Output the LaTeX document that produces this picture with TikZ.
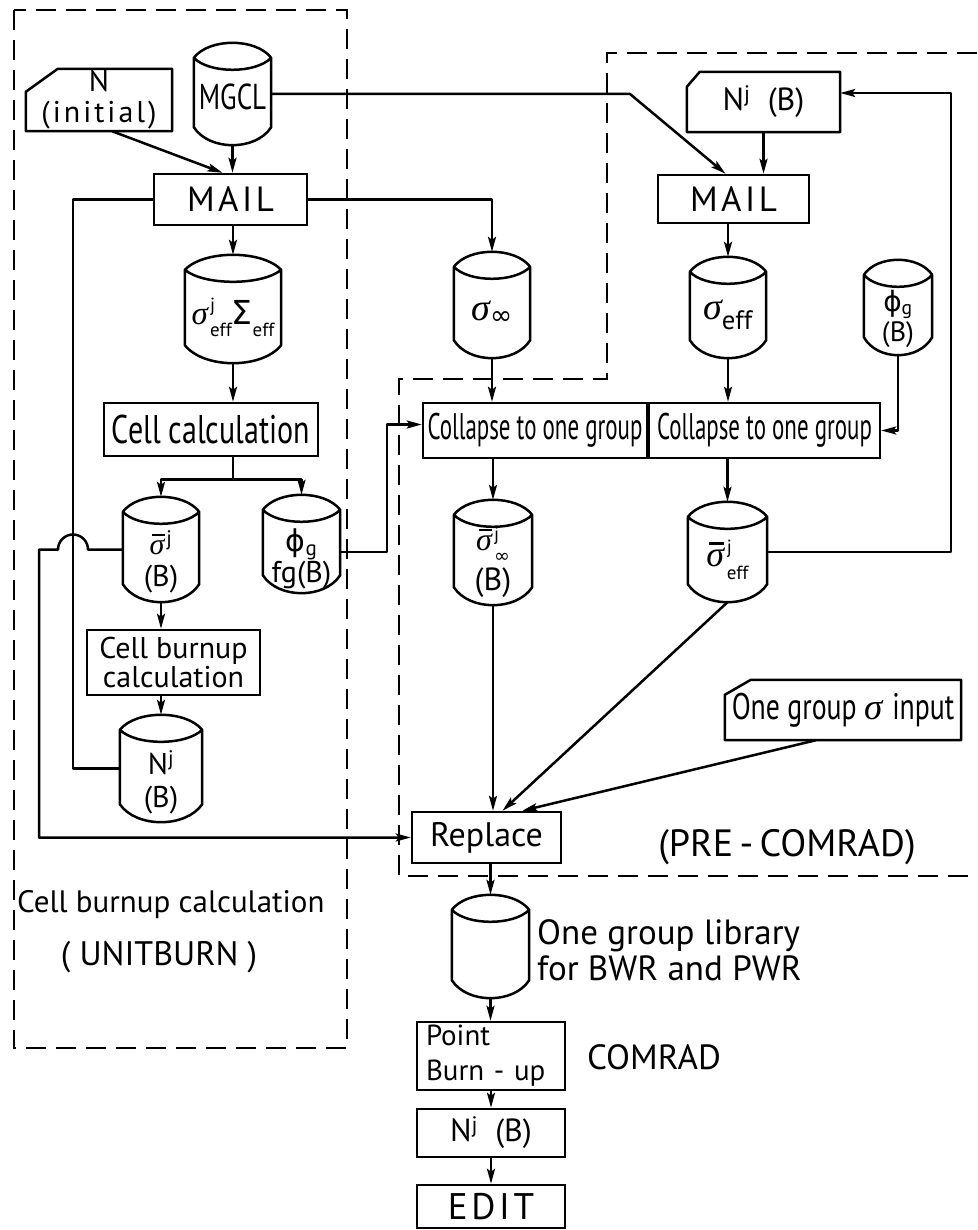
\documentclass[tikz,border=0pt]{standalone}
\usepackage{fontspec}
\setmainfont{PT Sans}
\newfontfamily\nar[FakeStretch=0.75]{PT Sans}
\newfontfamily\narr[FakeStretch=0.62]{PT Sans}
\newfontfamily\wide[LetterSpace=10]{PT Sans}
\newfontfamily\grk{Liberation Serif}
\newfontfamily\dvs{DejaVu Sans}
\usetikzlibrary{calc,arrows.meta}

\newcommand\fz[2]{\fontsize{#1}{#2}\selectfont}
\newcommand\sigx{{\grk\itshape σ}}
\newcommand\sig{\sigx\hspace{0.07em}}
\newcommand\sigbar{\makebox[0pt][l]{\raisebox{0.6em}{\hspace{0.08em}\rule{0.42em}{0.07em}}}\sig}
\newcommand\phig{{\dvs ϕ}}
% stacked superscript / subscript as one block
\newcommand\supsub[2]{\raisebox{-0.36em}{\fontsize{19}{18}\selectfont\shortstack[l]{#1\\[5pt]#2}}}

\tikzset{
  ln/.style={line width=2.5pt, line join=round},
  arr/.style={ln,-{Stealth[length=15pt,width=8pt,inset=3pt]}},
  bx/.style={draw, line width=2.5pt, inner sep=0pt, align=center},
  dbox/.style={line width=1.9pt, dash pattern=on 20pt off 10pt},
}

\newcommand{\drawcyl}[1]{%
  \draw[ln] ($(#1.north west)+(0,15)$)
    .. controls ($(#1.north west)!0.2!(#1.north east)+(0,-5)$) and ($(#1.north west)!0.8!(#1.north east)+(0,-5)$) .. ($(#1.north east)+(0,15)$)
    .. controls ($(#1.north west)!0.8!(#1.north east)+(0,31)$) and ($(#1.north west)!0.2!(#1.north east)+(0,31)$) .. ($(#1.north west)+(0,15)$)
    -- ($(#1.south west)+(0,-18)$)
    .. controls ($(#1.south west)!0.2!(#1.south east)+(0,6)$) and ($(#1.south west)!0.8!(#1.south east)+(0,6)$) .. ($(#1.south east)+(0,-18)$)
    -- ($(#1.north east)+(0,15)$);
}

% name, x, y, w, h, text shift, font, text
\newcommand{\cyl}[8]{%
  \node[minimum width=#4pt, minimum height=#5pt, inner sep=0pt] (#1) at (#2,#3) {};
  \drawcyl{#1}
  \node[align=center, inner sep=0pt, font=#7] (#1-t) at ($(#1.center)+(0,#6)$) {#8};
}

% name, x, y, w, h, cut x, cut y, font, text
\newcommand{\card}[9]{%
  \node[minimum width=#4pt, minimum height=#5pt, inner sep=0pt, align=center, font=#8] (#1) at (#2,#3) {#9};
  \draw[ln] ($(#1.north west)+(0,#7)$) -- ($(#1.north west)+(#6,0)$) -- (#1.north east) -- (#1.south east) -- (#1.south west) -- cycle;
}

\begin{document}
\begin{tikzpicture}[x=1pt,y=-1pt]
\useasboundingbox (0,0) rectangle (977,1230);
\fill[white] (0,0) rectangle (977,1230);

% dashed frames
\draw[dbox] (14,10) rectangle (347,1048);
\draw[dbox] (977,53) -- (607,53) -- (607,379) -- (399,379) -- (399,876) -- (977,876);

% ---------- UNITBURN part ----------
\cyl{mgcl}{232.5}{94}{77}{102}{3}{\nar\fz{36}{40}}{MGCL}
\card{ninit}{99}{100}{146}{62}{32}{23}{\wide\fz{30}{31}}{N\\(initial)}
\node[bx, minimum width=153pt, minimum height=51pt, font=\wide\fz{35}{40}] (mailL) at (230.5,199.5) {MAIL};
\cyl{sigeffL}{233}{309}{96}{108}{8}{\fz{33}{36}}{\sig\supsub{j}{eff}{\dvs Σ}\supsub{\strut}{eff}}
\node[bx, minimum width=214pt, minimum height=53pt, font=\nar\fz{40}{42}] (cellcalc) at (211,429.5) {Cell calculation};
\cyl{sbarB}{161}{549.5}{76}{105}{12}{\fz{30}{32}}{\sigbar\textsuperscript{j}\\(B)}
\cyl{phifg}{301.5}{544}{77}{98}{15}{\fz{30}{31}}{\phig\textsubscript{g}\\fg(B)}
\node[bx, minimum width=173pt, minimum height=65pt, font=\fz{30}{29}] (cellburn) at (173.5,662.5) {Cell burnup\\calculation};
\cyl{njB}{161}{768.5}{82}{107}{14}{\fz{30}{33}}{N\textsuperscript{j}\\(B)}

\node[anchor=west, inner sep=0pt, font=\fz{31}{36}] (lblcell) at (17,905) {Cell burnup calculation};
\node[inner sep=0pt, font=\fz{34}{36}] (lblunit) at (159,957) {( UNITBURN )};

% ---------- PRE-COMRAD part ----------
\cyl{sinf}{492}{305}{76}{106}{8}{\fz{38}{40}}{\sigx\textsubscript{\dvs ∞}}
\card{njcard}{763.5}{102}{153}{60}{13}{15}{\fz{32}{34}}{N\textsuperscript{j}\ \ (B)}
\node[bx, minimum width=151pt, minimum height=48pt, font=\wide\fz{35}{40}] (mailR) at (733.5,199) {MAIL};
\cyl{seff}{728}{307.5}{76}{101}{7}{\fz{38}{40}}{\sigx\textsubscript{eff}}
\cyl{phiB}{898}{307.5}{68}{95}{11}{\fz{28}{30}}{\phig\textsubscript{g}\\(B)}
\node[bx, minimum width=224pt, minimum height=55pt, font=\narr\fz{37}{40}] (coll1) at (535,430.5) {Collapse to one group};
\node[bx, minimum width=231pt, minimum height=55pt, font=\narr\fz{37}{40}] (coll2) at (764.5,430.5) {Collapse to one group};
\cyl{sbinf}{493}{552.5}{78}{105}{10}{\fz{32}{40}}{\sigbar\supsub{j}{\dvs ∞}\\(B)}
\cyl{sbeff}{727.5}{552}{79}{100}{8}{\fz{36}{38}}{\sigbar\supsub{j}{eff}}
\card{onegroup}{843}{710}{236}{60}{26}{15}{\nar\fz{37}{38}}{One group \sig\ input}
\node[bx, minimum width=149pt, minimum height=51pt, font=\fz{34}{38}] (replace) at (486.5,837.5) {Replace};
\node[inner sep=0pt, font=\fz{38}{40}] (lblpre) at (787,847) {(PRE\,-\,COMRAD)};

% ---------- COMRAD part ----------
\cyl{lib}{490.5}{946.5}{77}{103}{0}{\fz{30}{32}}{}
\node[anchor=west, inner sep=0pt, align=left, font=\fz{35}{36}] (lbllib) at (537,950) {One group library\\for BWR and PWR};
\node[bx, minimum width=148pt, minimum height=68pt, text width=130pt, align=left, inner xsep=9pt, font=\fz{29}{35}] (point) at (491,1056) {Point\\Burn - up};
\node[inner sep=0pt, font=\fz{35}{36}] (lblcomrad) at (654,1057) {COMRAD};
\node[bx, minimum width=148pt, minimum height=48pt, font=\fz{32}{34}] (njbox) at (491,1133) {N\textsuperscript{j}\ \ (B)};
\node[bx, minimum width=148pt, minimum height=43pt, font=\wide\fz{37}{40}] (edit) at (491,1206.5) {EDIT};

% ---------- connectors ----------
\draw[arr] (mgcl.south) -- (mgcl.south |- mailL.north);
\draw[arr] ($(ninit.south)+(13,0)$) -- ($(mailL.north)+(-8,0)$);
\draw[ln] (njB.west) -- ++(-47,0) |- (mailL.west);
\draw[arr] (mailL.east) -| (sinf.north);
\coordinate (k5) at (630,94);
\draw[arr] (mgcl.east) -- (k5) -- ($(mailR.north)+(-8,0)$);
\draw[arr] (njcard.south) -- (njcard.south |- mailR.north);
\draw[arr] (seff.north |- mailR.south) -- (seff.north);
\draw[arr] (sigeffL.north |- mailL.south) -- (sigeffL.north);
\draw[arr] (sigeffL.south) -- (sigeffL.south |- cellcalc.north);
\draw[ln] (sigeffL.south |- cellcalc.south) -- ++(0,22) coordinate (split);
\draw[arr] (split) -| (sbarB.north);
\draw[arr] (split) -| (phifg.north);
\draw[arr] (sbarB.south) -- (sbarB.south |- cellburn.north);
\draw[arr] (sbarB.south |- cellburn.south) -- (njB.north);
\draw[arr] (sbarB.west) -- (88,549.5) arc[start angle=0, end angle=-180, radius=15] -- (39,549.5) |- (replace.west);
\draw[arr] ($(phifg.east)+(0,8)$) -- ++(47,0) |- ($(coll1.west)+(0,-6)$);
\draw[arr] (sinf.south) -- (sinf.south |- coll1.north);
\draw[arr] (seff.south) -- (seff.south |- coll2.north);
\draw[arr] (phiB.south) |- (coll2.east);
\draw[arr] (sbinf.north |- coll1.south) -- (sbinf.north);
\draw[arr] (sbeff.north |- coll2.south) -- (sbeff.north);
\draw[arr] (sbeff.east) -- ++(184,0) |- ($(njcard.east)+(0,-9)$);
\draw[arr] (sbinf.south) -- (sbinf.south |- replace.north);
\draw[arr] (sbeff.south) -- ($(replace.north)+(16,0)$);
\draw[arr] ($(onegroup.south)+(-27,0)$) -- ($(replace.north east)+(-40,0)$);
\draw[arr] (lib.north |- replace.south) -- (lib.north);
\draw[arr] (lib.south) -- (lib.south |- point.north);
\draw[arr] (point.south) -- (njbox.north);
\draw[arr] (njbox.south) -- (edit.north);
\end{tikzpicture}
\end{document}
